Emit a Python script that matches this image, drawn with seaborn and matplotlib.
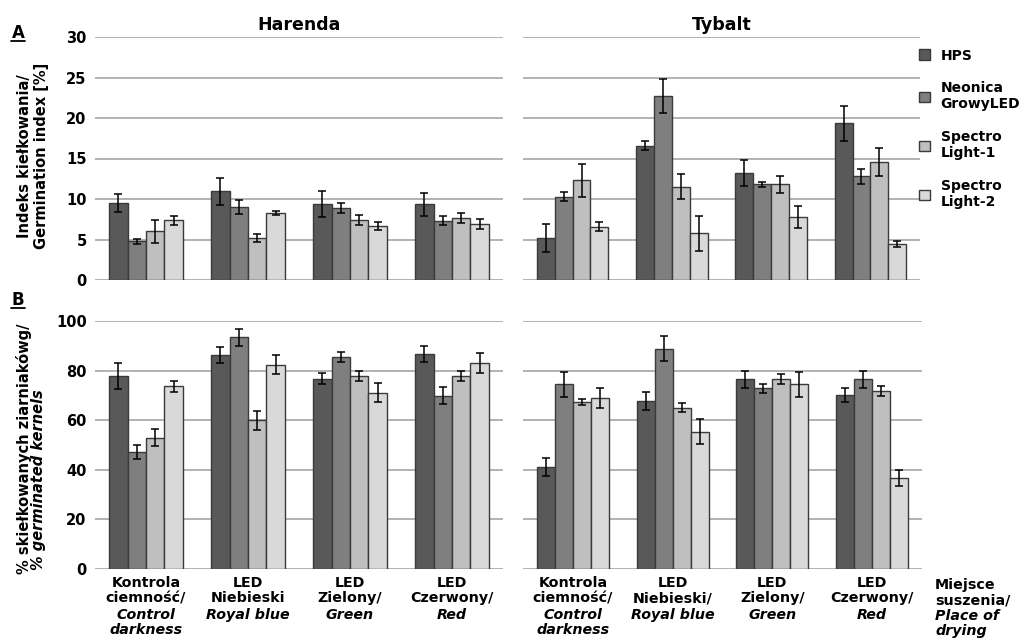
import matplotlib
matplotlib.use("Agg")
import numpy as np
import pandas as pd
import matplotlib.pyplot as plt
import seaborn as sns
from matplotlib.patches import Patch
from matplotlib.lines import Line2D

# ---------------- data ----------------
series = ["HPS", "Neonica GrowyLED", "Spectro Light-1", "Spectro Light-2"]
legend_labels = ["HPS", "Neonica\nGrowyLED", "Spectro\nLight-1", "Spectro\nLight-2"]
conditions = ["Kontrola", "LED Niebieski", "LED Zielony", "LED Czerwony"]
varieties = ["Harenda", "Tybalt"]

xlab_harenda = ["Kontrola\nciemność/", "LED\nNiebieski", "LED\nZielony/", "LED\nCzerwony/"]
xlab_tybalt = ["Kontrola\nciemność/", "LED\nNiebieski/", "LED\nZielony/", "LED\nCzerwony/"]
xlab_en = ["Control\ndarkness", "Royal blue", "Green", "Red"]

# Germination index [%]  (rows: series, cols: conditions)
gi_harenda = [[9.5, 10.95, 9.4, 9.35],
              [4.8, 9.05, 8.9, 7.3],
              [6.0, 5.2, 7.45, 7.65],
              [7.35, 8.3, 6.65, 6.95]]
gi_harenda_err = [[1.15, 1.65, 1.6, 1.4],
                  [0.3, 0.85, 0.6, 0.55],
                  [1.45, 0.5, 0.6, 0.65],
                  [0.5, 0.25, 0.5, 0.6]]
gi_tybalt = [[5.2, 16.6, 13.2, 19.35],
             [10.3, 22.7, 11.8, 12.8],
             [12.3, 11.5, 11.8, 14.55],
             [6.6, 5.75, 7.75, 4.45]]
gi_tybalt_err = [[1.75, 0.6, 1.6, 2.15],
                 [0.6, 2.1, 0.3, 0.95],
                 [2.05, 1.55, 1.0, 1.75],
                 [0.5, 2.15, 1.35, 0.35]]

# % germinated kernels
gk_harenda = [[77.8, 86.2, 76.8, 86.7],
              [47.1, 93.4, 85.6, 69.9],
              [52.9, 59.9, 77.8, 77.8],
              [73.7, 82.4, 71.1, 83.0]]
gk_harenda_err = [[5.2, 3.2, 2.1, 3.4],
                  [2.8, 3.4, 2.0, 3.5],
                  [3.5, 4.0, 1.9, 1.9],
                  [2.3, 3.8, 3.8, 3.9]]
gk_tybalt = [[41.1, 67.8, 76.5, 70.1],
             [74.4, 88.9, 72.8, 76.5],
             [67.4, 65.1, 76.6, 71.8],
             [68.9, 55.4, 74.4, 36.6]]
gk_tybalt_err = [[3.7, 3.7, 3.5, 2.7],
                 [5.2, 5.1, 1.9, 3.5],
                 [1.2, 1.7, 1.9, 1.9],
                 [3.9, 5.1, 5.2, 3.2]]

colors = ["#595959", "#7f7f7f", "#bfbfbf", "#d9d9d9"]
edge = "#3a3a3a"
gridc = "#a6a6a6"

sns.set_style("white")
plt.rcParams['font.family'] = ['DejaVu Sans']
plt.rcParams['font.weight'] = 'bold'
for k in ("text.color", "axes.labelcolor", "xtick.color", "ytick.color"):
    plt.rcParams[k] = "black"

W, H = 1025, 641
fig = plt.figure(figsize=(W / 100, H / 100), dpi=100)
LS = 1.13
XFS = 10.3


def frame(vals):
    rows = []
    for s, row in zip(series, vals):
        for c, v in zip(conditions, row):
            rows.append({"cond": c, "series": s, "val": v})
    return pd.DataFrame(rows)


def panel(rect, vals, errs, ylim, yticks, show_y):
    ax = fig.add_axes(rect)
    df = frame(vals)
    sns.barplot(data=df, x="cond", y="val", hue="series", order=conditions,
                hue_order=series, palette=colors, width=0.72, errorbar=None,
                edgecolor=edge, linewidth=1.0, legend=False, ax=ax, zorder=3)
    for cont, e in zip(ax.containers, errs):
        xs = [b.get_x() + b.get_width() / 2 for b in cont]
        hs = [b.get_height() for b in cont]
        ax.errorbar(xs, hs, yerr=e, fmt="none", ecolor="black", elinewidth=1.1,
                    capsize=3, capthick=1.1, zorder=4)
    ax.set_xlim(-0.5, 3.5)
    ax.set_ylim(*ylim)
    ax.set_yticks(yticks)
    ax.yaxis.grid(True, color=gridc, linewidth=1.2, zorder=0)
    ax.set_axisbelow(True)
    for sp in ax.spines.values():
        sp.set_visible(False)
    ax.set_xticks(range(4))
    ax.set_xticklabels([])
    ax.tick_params(axis="both", length=0, labelsize=10.5, pad=6,
                   labelcolor="black")
    for t in ax.get_yticklabels():
        t.set_fontweight("bold")
    if not show_y:
        ax.tick_params(labelleft=False)
    ax.set_xlabel("")
    ax.set_ylabel("")
    return ax


axA1 = panel([95 / W, 1 - 280 / H, 408 / W, 243 / H], gi_harenda, gi_harenda_err,
             (0, 30), [0, 5, 10, 15, 20, 25, 30], True)
axA2 = panel([523 / W, 1 - 280 / H, 397 / W, 243 / H], gi_tybalt, gi_tybalt_err,
             (0, 30), [0, 5, 10, 15, 20, 25, 30], False)
axB1 = panel([95 / W, 1 - 569 / H, 408 / W, 248 / H], gk_harenda, gk_harenda_err,
             (0, 100), [0, 20, 40, 60, 80, 100], True)
axB2 = panel([523 / W, 1 - 569 / H, 399 / W, 248 / H], gk_tybalt, gk_tybalt_err,
             (0, 100), [0, 20, 40, 60, 80, 100], False)

axA1.set_title(varieties[0], fontsize=12.5, fontweight="bold", pad=5, color="black")
axA2.set_title(varieties[1], fontsize=12.5, fontweight="bold", pad=5, color="black")

# x labels
for ax, labs in ((axB1, xlab_harenda), (axB2, xlab_tybalt)):
    for i in range(4):
        ax.annotate(labs[i], xy=(i, 0), xycoords=("data", "axes fraction"),
                    xytext=(0, -5), textcoords="offset points", ha="center",
                    va="top", multialignment="center", fontsize=XFS,
                    fontweight="bold", linespacing=LS)
        ax.annotate(xlab_en[i], xy=(i, 0), xycoords=("data", "axes fraction"),
                    xytext=(0, -28), textcoords="offset points", ha="center",
                    va="top", multialignment="center", fontsize=XFS,
                    fontweight="bold", style="italic", linespacing=LS)

fig.text(935 / W, 1 - 578 / H, "Miejsce\nsuszenia/", ha="left", va="top",
         fontsize=XFS, fontweight="bold", linespacing=LS)
fig.text(935 / W, 1 - 609 / H, "Place of\ndrying", ha="left", va="top",
         fontsize=XFS, fontweight="bold", style="italic", linespacing=LS)

# y labels
fig.text(33 / W, 1 - 156 / H, "Indeks kiełkowania/\nGermination index [%]",
         rotation=90, ha="center", va="center", multialignment="center",
         fontsize=10.5, fontweight="bold", linespacing=1.1)
fig.text(24 / W, 1 - 449 / H, "% skiełkowanych ziarniakówg/", rotation=90,
         ha="center", va="center", fontsize=10.5, fontweight="bold")
fig.text(39 / W, 1 - 480 / H, "% germinated kernels", rotation=90,
         ha="center", va="center", fontsize=10.5, fontweight="bold", style="italic")

# panel letters
for lab, yc in (("A", 33), ("B", 300)):
    fig.text(18 / W, 1 - yc / H, lab, ha="center", va="center", fontsize=12,
             fontweight="bold")
    fig.add_artist(Line2D([11 / W, 25 / W], [1 - (yc + 8) / H] * 2,
                          color="black", linewidth=1.3))

# legend
handles = [Patch(facecolor=c, edgecolor=edge, linewidth=1) for c in colors]
fig.legend(handles, legend_labels, loc="upper left",
           bbox_to_anchor=(906 / W, 1 - 36 / H), frameon=False,
           prop={"weight": "bold", "size": 10}, handlelength=0.8,
           handleheight=0.8, labelspacing=1.35, handletextpad=0.8)

fig.savefig("out.png", dpi=100)
